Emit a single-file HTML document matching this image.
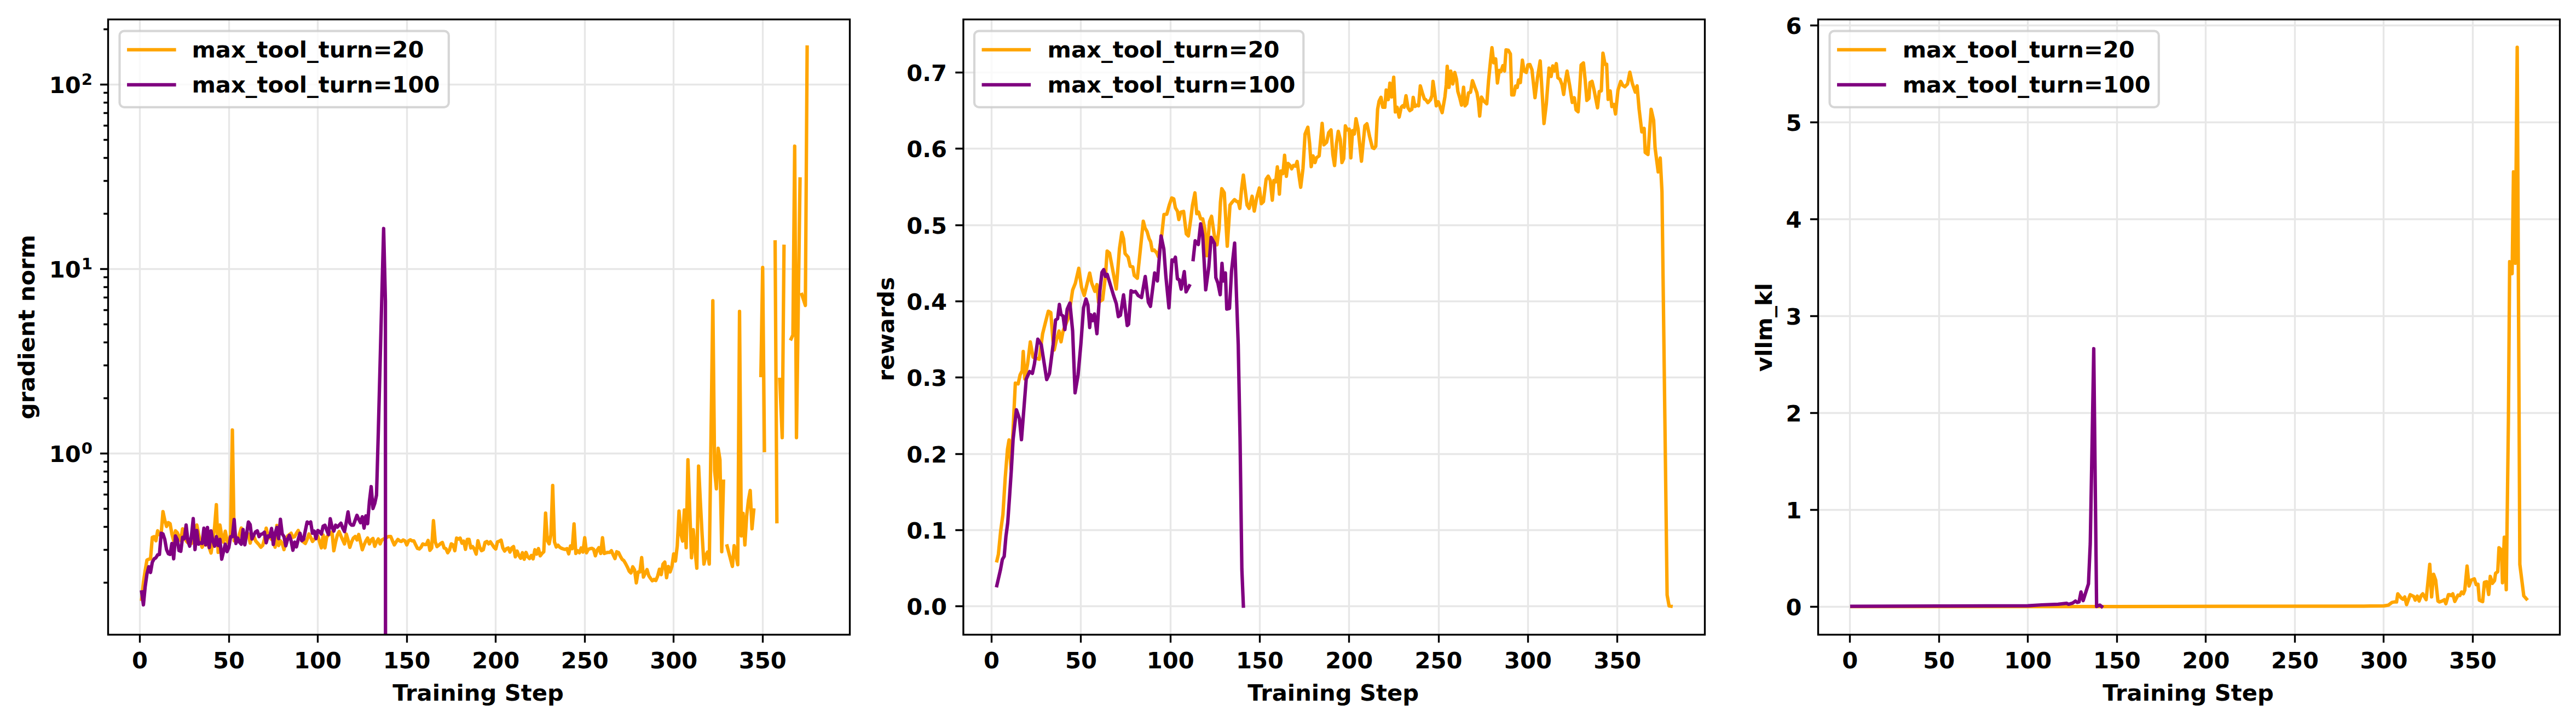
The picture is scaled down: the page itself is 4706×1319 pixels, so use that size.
<!DOCTYPE html>
<html><head><meta charset="utf-8"><title>training curves</title>
<style>
html,body{margin:0;padding:0;background:#fff}
svg{display:block}
text{font-family:"DejaVu Sans","Liberation Sans",sans-serif;font-weight:bold;fill:#000}
</style></head><body>
<svg width="4706" height="1319" viewBox="0 0 4706 1319">
<rect width="4706" height="1319" fill="#fff"/>
<g id="panel1">
<clipPath id="clip0"><rect x="197.5" y="35.5" width="1355" height="1124"/></clipPath>
<path d="M255.5 35.5V1159.5M418.5 35.5V1159.5M580.5 35.5V1159.5M743.5 35.5V1159.5M905.5 35.5V1159.5M1068.5 35.5V1159.5M1230.5 35.5V1159.5M1393.5 35.5V1159.5M197.5 828.5H1552.5M197.5 491.5H1552.5M197.5 154.5H1552.5" stroke="#e7e7e7" stroke-width="3.33" fill="none"/>
<g clip-path="url(#clip0)" fill="none" stroke-width="6.25" stroke-linejoin="round" stroke-linecap="square">
<path d="M258.75,1094.7 262,1064 265.25,1042 268.5,1023 271.75,1021.6 275,1021 278.26,981.61 281.51,980.37 284.76,987.84 288.01,969.78 291.26,976.63 294.51,974.14 297.76,934.6 301.01,950.46 304.26,961.68 307.51,954.82 310.76,956.69 314.01,975.38 317.27,987.84 320.52,969.78 323.77,972.89 327.02,980.37 330.27,987.84 333.52,966.04 336.77,981.61 340.02,987.84 343.27,991.58 346.52,994.07 349.77,992.83 353.02,987.84 356.27,975.38 359.53,959.18 362.78,975.38 366.03,990.34 369.28,999.68 372.53,992.83 375.78,995.32 379.03,994.07 382.28,1000.31 385.53,1010.27 388.78,987.84 392.03,962.92 395.28,922 398.54,1009.03 401.79,959.18 405.04,979.12 408.29,990.34 411.54,970.4 414.79,987.84 418.04,992.83 421.29,975.38 424.54,785.5 427.79,987.84 431.04,987.84 434.29,987.84 437.54,975.38 440.8,964.79 444.05,975.38 447.3,981.61 450.55,979.12 453.8,975.38 457.05,992.21 460.3,979.12 463.55,979.12 466.8,987.84 470.05,991.58 473.3,995.32 476.55,999.68 479.81,996.57 483.06,985.35 486.31,964.79 489.56,979.12 492.81,981.61 496.06,985.35 499.31,987.84 502.56,999.68 505.81,959.81 509.06,996.57 512.31,987.84 515.56,992.83 518.81,1004.04 522.07,990.34 525.32,979.12 528.57,976.63 531.82,974.14 535.07,981.61 538.32,980.37 541.57,974.14 544.82,969.15 548.07,979.12 551.32,987.84 554.57,990.34 557.82,992.83 561.08,985.35 564.33,975.38 567.58,981.61 570.83,989.09 574.08,985.35 577.33,981.61 580.58,979.22 583.83,990.03 587.08,1000.83 590.33,977.42 593.58,1000.83 596.83,981.02 600.08,977.42 603.34,975.62 606.59,972.02 609.84,1006.23 613.09,990.03 616.34,977.42 619.59,971.12 622.84,979.22 626.09,986.42 629.34,993.63 632.59,975.62 635.84,986.42 639.09,999.93 642.35,990.03 645.6,982.82 648.85,980.12 652.1,986.42 655.35,976.52 658.6,990.03 661.85,1004.43 665.1,995.43 668.35,988.22 671.6,982.82 674.85,993.63 678.1,986.42 681.35,983.72 684.61,998.13 687.86,990.03 691.11,984.62 694.36,993.63 697.61,986.42 700.86,984.62 704.11,983.72 707.36,981.02 710.61,980.12 713.86,980.12 717.11,988.22 720.36,995.43 723.62,990.03 726.87,985.52 730.12,988.22 733.37,989.12 736.62,986.42 739.87,988.22 743.12,995.43 746.37,988.22 749.62,986.06 752.87,988.22 756.12,988.22 759.37,995.43 762.62,1001.73 765.88,1002.92 769.13,999.81 772.38,993.58 775.63,994.82 778.88,994.82 782.13,987.34 785.38,1005.42 788.63,1001.05 791.88,951.19 795.13,989.84 798.38,998.56 801.63,996.07 804.89,992.95 808.14,991.08 811.39,1001.05 814.64,1002.3 817.89,1009.78 821.14,1004.79 824.39,993.58 827.64,995.45 830.89,1006.04 834.14,982.98 837.39,984.85 840.64,982.98 843.89,992.33 847.15,988.59 850.4,1003.55 853.65,985.47 856.9,985.47 860.15,1001.05 863.4,998.56 866.65,1003.55 869.9,1012.27 873.15,987.97 876.4,999.81 879.65,1006.04 882.9,1004.17 886.16,991.08 889.41,989.21 892.66,993.58 895.91,989.84 899.16,994.82 902.41,999.81 905.66,1002.92 908.91,989.84 912.16,988.59 915.41,986.72 918.66,1001.05 921.91,1006.66 925.16,1002.3 928.42,1001.05 931.67,1008.56 934.92,1001.08 938.17,998.59 941.42,1017.29 944.67,1006.69 947.92,1014.79 951.17,1019.78 954.42,1009.81 957.67,1021.65 960.92,1009.18 964.17,1017.29 967.43,1020.4 970.68,1014.79 973.93,1021.03 977.18,1004.2 980.43,1012.3 983.68,1002.33 986.93,1015.42 990.18,1011.05 993.43,1007.94 996.68,937.3 999.93,987.37 1003.18,993.6 1006.43,977.4 1009.69,886.8 1012.94,989.86 1016.19,999.21 1019.44,996.1 1022.69,999.84 1025.94,1001.71 1029.19,1002.95 1032.44,1003.58 1035.69,1002.33 1038.94,1011.68 1042.19,997.34 1045.44,1002.33 1048.7,957.2 1051.95,1011.05 1055.2,1006.07 1058.45,1009.81 1061.7,1001.08 1064.95,1008.56 1068.2,982.38 1071.45,1009.81 1074.7,1003.58 1077.95,1002.33 1081.2,1001.71 1084.45,1003.58 1087.7,1015.42 1090.96,1004.82 1094.21,1000.46 1097.46,1011.05 1100.71,982.38 1103.96,1011.05 1107.21,1009.81 1110.46,1009.18 1113.71,1009.18 1116.96,1006.07 1120.21,1013.67 1123.46,1020.53 1126.71,1008.06 1129.97,1009.31 1133.22,1016.16 1136.47,1021.77 1139.72,1024.27 1142.97,1029.88 1146.22,1036.11 1149.47,1043.59 1152.72,1046.71 1155.97,1035.49 1159.22,1041.1 1162.47,1064.78 1165.72,1044.84 1168.97,1044.84 1172.23,1018.66 1175.48,1054.18 1178.73,1047.33 1181.98,1040.47 1185.23,1051.69 1188.48,1056.68 1191.73,1061.04 1194.98,1058.55 1198.23,1060.42 1201.48,1052.31 1204.73,1039.85 1207.98,1049.82 1211.24,1030.5 1214.49,1026.76 1217.74,1055.43 1220.99,1034.86 1224.24,1044.84 1227.49,1034.86 1230.74,1011.8 1233.99,1024.89 1237.24,997.47 1240.49,933.7 1243.74,975 1246.99,988.5 1250.24,931.7 1253.5,1000.6 1256.75,839.9 1260,929 1263.25,1019 1266.5,967.6 1269.75,1005 1273,1038 1276.25,851.5 1279.5,918 1282.75,978 1286,1030.5 1289.25,1015 1292.51,1008.6 1295.76,1030.5 1299.01,790 1302.26,549.4 1305.51,860 1308.76,893 1312.01,818.9 1315.26,840 1318.51,1008 1321.76,879M1328.26,997.4 1331.51,1009.8 1334.77,1022.3 1338.02,1034.8 1341.27,996.8 1344.52,1014 1347.77,1031.7 1351.02,568.9 1354.27,979 1357.52,937.9 1360.77,995.5 1364.02,943 1367.27,914 1370.52,896 1373.78,966 1377.03,931.7M1390.03,686 1393.28,488.6 1396.53,823M1416.04,442 1419.29,953M1424.49,693 1429.04,799.5 1432.29,450M1445.29,619 1448.54,612 1451.79,267 1455.05,799.5 1458.3,563 1461.55,327M1464.8,538 1468.05,548 1471.3,558 1474.55,86" stroke="#ffa500"/>
<path d="M258.75,1081.4 262,1105 265.25,1071.5 268.5,1048.2 271.75,1035.4 275,1045.7 278.26,1027 281.51,1021 284.76,1019 288.01,1013.6 291.26,1013 294.51,974.14 297.76,975.38 301.01,985.35 304.26,1004.04 307.51,1011.52 310.76,1012.77 314.01,992.83 317.27,1020.87 320.52,979.12 323.77,985.35 327.02,1005.91 330.27,1007.16 333.52,981.61 336.77,984.11 340.02,959.18 343.27,987.84 346.52,997.81 349.77,979.12 353.02,947.35 356.27,1004.04 359.53,969.15 362.78,994.07 366.03,991.58 369.28,992.83 372.53,964.79 375.78,995.32 379.03,963.55 382.28,1000.31 385.53,969.78 388.78,987.84 392.03,997.81 395.28,980.37 398.54,996.57 401.79,985.35 405.04,1021.49 408.29,1007.78 411.54,994.07 414.79,1007.78 418.04,1000.31 421.29,980.37 424.54,980.37 427.79,949.21 431.04,992.83 434.29,982.86 437.54,990.34 440.8,994.07 444.05,967.28 447.3,995.32 450.55,975.38 453.8,953.58 457.05,958.56 460.3,984.73 463.55,977.88 466.8,971.64 470.05,969.78 473.3,980.37 476.55,976.01 479.81,975.38 483.06,972.27 486.31,991.58 489.56,979.12 492.81,980.37 496.06,965.41 499.31,994.7 502.56,974.14 505.81,963.55 509.06,984.11 512.31,948.59 515.56,975.38 518.81,980.37 522.07,997.19 525.32,985.35 528.57,977.88 531.82,987.84 535.07,1005.29 538.32,990.34 541.57,999.06 544.82,985.35 548.07,974.14 551.32,987.84 554.57,985.35 557.82,969.15 561.08,953.58 564.33,956.07 567.58,953.58 570.83,974.14 574.08,970.4 577.33,984.11 580.58,969.15 583.83,971.12 587.08,975.62 590.33,961.22 593.58,959.42 596.83,968.42 600.08,976.52 603.34,947.71 606.59,963.02 609.84,970.22 613.09,959.42 616.34,963.02 619.59,959.42 622.84,955.82 626.09,964.82 629.34,971.12 632.59,954.02 635.84,935.11 639.09,955.82 642.35,959.42 645.6,959.42 648.85,950.41 652.1,941.41 655.35,948.61 658.6,954.92 661.85,944.11 665.1,964.82 668.35,942.31 671.6,956.72 674.85,916.2 678.1,889 681.35,929 684.61,919.8 687.86,904.5 691.11,790 694.36,665 697.61,540 700.86,417.5 704.1,550 704.3,1300" stroke="#800080"/>
</g>
<path d="M255.5 1159.5v14.6M418.5 1159.5v14.6M580.5 1159.5v14.6M743.5 1159.5v14.6M905.5 1159.5v14.6M1068.5 1159.5v14.6M1230.5 1159.5v14.6M1393.5 1159.5v14.6M197.5 828.5h-14.6M197.5 491.5h-14.6M197.5 154.5h-14.6M197.5 1064.5h-8.3M197.5 1004.5h-8.3M197.5 962.5h-8.3M197.5 929.5h-8.3M197.5 903.5h-8.3M197.5 880.5h-8.3M197.5 861.5h-8.3M197.5 843.5h-8.3M197.5 727.5h-8.3M197.5 667.5h-8.3M197.5 625.5h-8.3M197.5 592.5h-8.3M197.5 566.5h-8.3M197.5 543.5h-8.3M197.5 524.5h-8.3M197.5 506.5h-8.3M197.5 390.5h-8.3M197.5 330.5h-8.3M197.5 288.5h-8.3M197.5 255.5h-8.3M197.5 229.5h-8.3M197.5 206.5h-8.3M197.5 187.5h-8.3M197.5 169.5h-8.3M197.5 53.5h-8.3" stroke="#000" stroke-width="3.33" fill="none"/>
<rect x="197.5" y="35.5" width="1355" height="1124" fill="none" stroke="#000" stroke-width="3.33"/>
<text x="255.5" y="1220.7" font-size="41.67" text-anchor="middle">0</text>
<text x="418.04" y="1220.7" font-size="41.67" text-anchor="middle">50</text>
<text x="580.58" y="1220.7" font-size="41.67" text-anchor="middle">100</text>
<text x="743.12" y="1220.7" font-size="41.67" text-anchor="middle">150</text>
<text x="905.66" y="1220.7" font-size="41.67" text-anchor="middle">200</text>
<text x="1068.2" y="1220.7" font-size="41.67" text-anchor="middle">250</text>
<text x="1230.74" y="1220.7" font-size="41.67" text-anchor="middle">300</text>
<text x="1393.28" y="1220.7" font-size="41.67" text-anchor="middle">350</text>
<text x="147.7" y="844.2" font-size="41.67" text-anchor="end">10</text><text x="148.7" y="829.3" font-size="29.17" text-anchor="start">0</text>
<text x="147.7" y="507.2" font-size="41.67" text-anchor="end">10</text><text x="148.7" y="492.3" font-size="29.17" text-anchor="start">1</text>
<text x="147.7" y="170.2" font-size="41.67" text-anchor="end">10</text><text x="148.7" y="155.3" font-size="29.17" text-anchor="start">2</text>
<text x="873.5" y="1279.6" font-size="41.67" text-anchor="middle">Training Step</text>
<text transform="translate(63.4 597.5) rotate(-90)" font-size="41.67" text-anchor="middle">gradient norm</text>
<rect x="218.5" y="56.6" width="601.3" height="139.2" rx="8.3" fill="#fff" fill-opacity="0.8" stroke="#ccc" stroke-opacity="0.8" stroke-width="4.17"/>
<path d="M235.2 90.8h83.3" stroke="#ffa500" stroke-width="6.25" stroke-linecap="square" fill="none"/><text x="350.4" y="104.5" font-size="41.67">max_tool_turn=20</text>
<path d="M235.2 154.9h83.3" stroke="#800080" stroke-width="6.25" stroke-linecap="square" fill="none"/><text x="350.4" y="168.6" font-size="41.67">max_tool_turn=100</text>
</g>
<g id="panel2">
<clipPath id="clip1"><rect x="1759.9" y="35.5" width="1354.6" height="1124"/></clipPath>
<path d="M1811.5 35.5V1159.5M1974.5 35.5V1159.5M2138.5 35.5V1159.5M2301.5 35.5V1159.5M2464.5 35.5V1159.5M2628.5 35.5V1159.5M2791.5 35.5V1159.5M2954.5 35.5V1159.5M1759.9 1107.5H3114.5M1759.9 968.5H3114.5M1759.9 829.5H3114.5M1759.9 689.5H3114.5M1759.9 550.5H3114.5M1759.9 411.5H3114.5M1759.9 271.5H3114.5M1759.9 132.5H3114.5" stroke="#e7e7e7" stroke-width="3.33" fill="none"/>
<g clip-path="url(#clip1)" fill="none" stroke-width="6.25" stroke-linejoin="round" stroke-linecap="square">
<path d="M1821.2,1024.5 1823.9,1012.7 1828,971 1832.2,940 1836.4,873 1840.5,821 1843.4,803.6 1847,857.4 1850.5,790 1854.9,699.9 1859.96,701.35 1863.58,684.88 1867.31,677.4 1869.31,642.16 1872.3,692.25 1877.29,664.93 1882.27,624.71 1887.26,652.47 1898.48,656.21 1904.71,609.64 1909.7,589.7 1915.18,568.61 1919.67,571 1923.41,619.62 1925.9,639.45 1929.64,622.11 1934.63,604.76 1938.37,624.5 1942.11,604.66 1952.08,579.73 1959.56,529.86 1964.55,517.4 1970.78,490.08 1975.77,524.88 1980.75,539.73 1990.73,498.81 1994.47,517.4 2000.07,532.25 2003.94,520 2006.93,552.19 2014.41,547.31 2019.4,504.93 2022.64,458.53 2026.94,462.27 2039.28,527.92 2045.08,454.79 2049.38,424.67 2052.56,436.1 2055.36,463.21 2060.97,469.75 2064.71,486.58 2069.39,487.52 2072.19,503.41 2077.8,508.29 2083.41,454.79 2088.65,404.1 2091.82,416.46 2095.56,423.01 2099.3,436.1 2102.11,441.71 2104.91,457.6 2108.65,456.66 2113.33,462.27 2116.13,469.02 2122.68,426.75 2126.42,391.95 2131.56,391.42 2136.1,374.57 2140.58,361.61 2144.32,363.36 2147.31,379.56 2151.05,385.79 2153.55,401.08 2157.29,387.48 2162.27,386.23 2167.26,427.37 2171,431.11 2175.36,400.35 2178.48,375.07 2182.97,352.24 2186.33,390.27 2189.7,387.59 2193.44,399.95 2197.18,399.95 2200.92,417.4 2204.66,467.15 2209.64,404.93 2213.38,395.07 2218.37,429.86 2223.36,447.21 2227.1,417.4 2229.59,369.59 2232.08,344.76 2236.57,352.14 2242.05,449.7 2247.04,374.57 2250.78,369.59 2255.27,364.71 2259.51,368.34 2262,368.34 2264.99,380.7 2268.23,344.66 2271.47,319.83 2274.47,344.66 2278.2,374.57 2281.94,380.7 2287.43,358.48 2291.42,385.69 2295.66,362.11 2300.64,343.52 2304.38,372.08 2308.12,368.34 2313.11,327.21 2316.85,321.83 2320.59,329.7 2324.33,365.74 2327.32,329.7 2330.56,332.19 2333.55,304.87 2337.29,354.52 2340.03,312.35 2343.77,317.13 2346.77,283.68 2350.01,322.11 2353,298.53 2356.74,302.27 2359.73,308.4 2362.97,302.27 2366.71,303.52 2369.7,294.9 2372.94,319.73 2376.19,342.06 2380.42,307.26 2384.16,244.93 2389.22,232.38 2392.47,262.19 2395.46,304.47 2398.7,284.74 2402.44,296.99 2404.93,288.37 2409.92,284.63 2415.4,225.4 2418.64,264.58 2423.63,259.7 2427.37,242.25 2431.61,237.37 2434.85,282.14 2438.09,302.47 2441.58,262.19 2444.82,239.86 2448.56,254.71 2451.55,296.99 2454.79,289.62 2457.79,229.89 2461.03,237.26 2464.77,236.01 2467.76,288.26 2471,238.61 2474.24,244.63 2477.23,216.92 2480.97,234.77 2487.21,294.5 2493.44,229.78 2497.18,226.15 2502.16,249.73 2507.15,269.67 2510.14,271.31 2513.38,267.18 2516.7,199.62 2519.45,184.66 2522.94,177.78 2526.18,195.88 2529.92,195.88 2532.41,164.32 2536.15,182.06 2539.14,151.85 2542.38,177.07 2546.12,141.13 2549.11,204.5 2552.36,195.98 2556.1,213.97 2559.84,195.88 2562.33,193.38 2565.32,195.77 2568.56,174.79 2572.3,197.12 2575.54,202.11 2579.28,199.62 2581.78,177.78 2584.77,194.52 2588.51,192.24 2591.5,193.28 2594.74,156.84 2598.48,169.7 2602.22,180.92 2604.71,182.16 2608.45,187.54 2613.44,182.16 2615.93,174.68 2617.93,148.61 2620.92,169.7 2623.91,193.28 2627.65,186.01 2634.63,205.74 2639.62,177.18 2642.11,154.74 2643.85,121.19 2647.1,159.62 2650.34,129.91 2654.08,153.39 2657.57,132.41 2660.81,144.77 2663.3,167.21 2667.04,179.67 2670.03,192.03 2673.77,159.33 2676.51,193.38 2679.51,189.64 2682.75,169.7 2686.49,168.45 2689.98,147.37 2694.47,159.73 2698.2,169.7 2700.7,184.66 2703.19,211.97 2706.43,177.28 2710.67,184.66 2716.16,189.54 2719.4,147.26 2723.14,109.86 2725.63,87.03 2728.87,114.74 2732.36,107.48 2735.6,151.64 2738.84,128.67 2741.83,130.95 2745.57,119.94 2748.57,129.7 2751.31,91.16 2755.55,91.91 2759.29,98.64 2761.78,173.44 2765.52,173.44 2768.76,157.23 2771.75,159.73 2774.25,146.12 2777.49,150.89 2781.23,109.97 2784.22,129.81 2788.46,132.3 2791.2,118.59 2794.94,117.84 2798.68,127.31 2801.67,154.74 2804.24,178.32 2808.73,142.27 2813.71,111.22 2817.45,172.19 2820.69,225.69 2824.93,189.64 2829.92,124.43 2833.66,139.67 2836.65,120.44 2839.89,129.7 2843.13,116.2 2846.12,142.27 2849.86,144.77 2853.6,154.74 2856.59,172.58 2859.84,147.26 2862.83,129.91 2867.31,154.74 2872.3,187.04 2876.04,178.53 2879.28,200.86 2883.02,204.1 2886.01,159.73 2888.51,118.59 2892.74,114.96 2895.99,147.26 2898.98,183.41 2902.72,179.67 2904.71,151 2908.45,148.61 2912.19,164.71 2918.42,197.02 2921.67,167.21 2925.41,165.96 2928.4,97.01 2932.14,117.34 2935.13,117.34 2937.87,181.56 2941.61,166.07 2944.6,194.63 2948.34,190.89 2951.33,208.24 2955.82,164.71 2960.81,148.61 2964.55,155.99 2968.29,158.48 2973.27,153.49 2977.51,131.91 2982,152.25 2987.48,168.34 2990.73,156.84 2994.47,199.62 2999.4,241 3003.6,234.5 3005.6,278.5 3010.6,282.3 3016.4,199.7 3021,220 3023.6,270 3029.3,314.1 3033,288.6 3036.2,350 3045.6,1087 3049.2,1107 3052.7,1107.5" stroke="#ffa500"/>
<path d="M1821,1070 1824.7,1054 1827.9,1040 1831.2,1022 1834.5,1016.5 1837.7,980 1841,955 1844.4,906 1847.6,858 1850.8,803 1856.84,748.56 1862.33,764.66 1866.07,803.19 1874.79,692.36 1881.03,678.75 1886.01,682.28 1889.75,664.93 1895.99,619.72 1902.22,629.59 1912.2,693.4 1917.2,682.4 1923.91,629.59 1928.4,584.71 1932.14,582.22 1935.38,556.15 1938.37,574.74 1942.11,577.23 1945.35,602.06 1949.59,564.77 1954.57,553.65 1959.56,604.66 1964,717.7 1969.5,684.9 1974.52,629.59 1979.51,562.27 1983.99,546.18 1987.48,557.29 1990.73,598.32 1992.72,574.85 1995.96,585.85 1999.45,573.6 2003.94,609.54 2009.42,529.86 2013.16,497.45 2016.4,492.57 2019.4,504.93 2022.64,501.19 2026.88,514.9 2034.36,539.84 2039.34,554.79 2043.08,578.48 2046.82,575.99 2052.56,538.7 2059.29,594.68 2061.78,592.19 2066.27,531.22 2070.51,533.6 2074.25,532.36 2079.23,539.84 2085.46,543.58 2092.2,505.04 2097.93,552.3 2101.7,559.7 2109.42,498.53 2114.41,513.28 2121.14,431.22 2126.12,454.79 2129.86,504.66 2135.5,562.4 2141.08,474.85 2144.32,477.13 2147.31,469.86 2151.05,509.64 2154.3,510.89 2157.79,528.24 2163.52,496.04 2166.76,533.22 2172.74,522.11M2179.73,474.24 2183.47,439.94 2189.2,446.71 2193.44,408.78 2197.18,429.86 2202.66,529.48 2208.4,487.21 2212.64,433.71 2218.7,444.93 2221.19,507.26 2224.93,517.23 2229.17,538.32 2232.41,481.19 2234.9,513.39 2238.64,498.64 2241.14,564.6 2246.12,563.36 2249.86,494.79 2255.5,444.1 2262.1,630 2265.4,800 2268.7,1040 2271.5,1107.3" stroke="#800080"/>
</g>
<path d="M1811.5 1159.5v14.6M1974.5 1159.5v14.6M2138.5 1159.5v14.6M2301.5 1159.5v14.6M2464.5 1159.5v14.6M2628.5 1159.5v14.6M2791.5 1159.5v14.6M2954.5 1159.5v14.6M1759.9 1107.5h-14.6M1759.9 968.5h-14.6M1759.9 829.5h-14.6M1759.9 689.5h-14.6M1759.9 550.5h-14.6M1759.9 411.5h-14.6M1759.9 271.5h-14.6M1759.9 132.5h-14.6" stroke="#000" stroke-width="3.33" fill="none"/>
<rect x="1759.9" y="35.5" width="1354.6" height="1124" fill="none" stroke="#000" stroke-width="3.33"/>
<text x="1811.6" y="1220.7" font-size="41.67" text-anchor="middle">0</text>
<text x="1974.9" y="1220.7" font-size="41.67" text-anchor="middle">50</text>
<text x="2138.2" y="1220.7" font-size="41.67" text-anchor="middle">100</text>
<text x="2301.5" y="1220.7" font-size="41.67" text-anchor="middle">150</text>
<text x="2464.8" y="1220.7" font-size="41.67" text-anchor="middle">200</text>
<text x="2628.1" y="1220.7" font-size="41.67" text-anchor="middle">250</text>
<text x="2791.4" y="1220.7" font-size="41.67" text-anchor="middle">300</text>
<text x="2954.7" y="1220.7" font-size="41.67" text-anchor="middle">350</text>
<text x="1730" y="1123.4" font-size="41.67" text-anchor="end">0.0</text>
<text x="1730" y="984.06" font-size="41.67" text-anchor="end">0.1</text>
<text x="1730" y="844.72" font-size="41.67" text-anchor="end">0.2</text>
<text x="1730" y="705.38" font-size="41.67" text-anchor="end">0.3</text>
<text x="1730" y="566.04" font-size="41.67" text-anchor="end">0.4</text>
<text x="1730" y="426.7" font-size="41.67" text-anchor="end">0.5</text>
<text x="1730" y="287.36" font-size="41.67" text-anchor="end">0.6</text>
<text x="1730" y="148.02" font-size="41.67" text-anchor="end">0.7</text>
<text x="2435.7" y="1279.6" font-size="41.67" text-anchor="middle">Training Step</text>
<text transform="translate(1632.8 601.3) rotate(-90)" font-size="41.67" text-anchor="middle">rewards</text>
<rect x="1780" y="56.6" width="601.3" height="139.2" rx="8.3" fill="#fff" fill-opacity="0.8" stroke="#ccc" stroke-opacity="0.8" stroke-width="4.17"/>
<path d="M1796.7 90.8h83.3" stroke="#ffa500" stroke-width="6.25" stroke-linecap="square" fill="none"/><text x="1913.5" y="104.5" font-size="41.67">max_tool_turn=20</text>
<path d="M1796.7 154.9h83.3" stroke="#800080" stroke-width="6.25" stroke-linecap="square" fill="none"/><text x="1913.5" y="168.6" font-size="41.67">max_tool_turn=100</text>
</g>
<g id="panel3">
<clipPath id="clip2"><rect x="3321.5" y="35.5" width="1355" height="1124"/></clipPath>
<path d="M3379.5 35.5V1159.5M3542.5 35.5V1159.5M3704.5 35.5V1159.5M3867.5 35.5V1159.5M4029.5 35.5V1159.5M4192.5 35.5V1159.5M4354.5 35.5V1159.5M4517.5 35.5V1159.5M3321.5 1108.5H4676.5M3321.5 931.5H4676.5M3321.5 754.5H4676.5M3321.5 577.5H4676.5M3321.5 400.5H4676.5M3321.5 223.5H4676.5M3321.5 46.5H4676.5" stroke="#e7e7e7" stroke-width="3.33" fill="none"/>
<g clip-path="url(#clip2)" fill="none" stroke-width="6.25" stroke-linejoin="round" stroke-linecap="square">
<path d="M3383.05,1108.2 3867.38,1108 4313.38,1107.36 4330,1107.2 4354.93,1106.86 4363.24,1105.53 4369.89,1100.55 4374.04,1099.72 4378.2,1099.72 4380.36,1084.87 4386.51,1092.24 4389.83,1094.73 4393.15,1090.68 4396.48,1104.6 4403.13,1086.42 4409.77,1089.75 4412.27,1096.29 4416.09,1089.02 4419.41,1097.95 4423.07,1088.08 4426.06,1084.87 4432.21,1095.46 4438.86,1030.85 4442.18,1090.47 4445.84,1049.13 4449.66,1059.83 4453.82,1098.06 4456.31,1099.72 4461.29,1098.06 4465.45,1095.56 4468.27,1102.93 4472.93,1086.42 4475.42,1086.42 4477.91,1087.98 4480.91,1084.87 4484.56,1098.78 4490.38,1087.25 4493.7,1088.08 4497.03,1081.54 4500.35,1084.65 4502.84,1078.11 4507,1034.18 4510.65,1070.53 4514.48,1059.83 4520.29,1057.44 4523.62,1068.14 4526.94,1067.31 4529.43,1096.39 4532.76,1098.06 4535.5,1099 4538.7,1063.7 4542.6,1062.8 4546.5,1086 4549.4,1053 4553.3,1065.7 4557.1,1060.8 4559.1,1047.3 4563,1044.4 4565.3,1000.7 4569.8,1004.6 4571.7,1064.7 4575,981.3 4578.6,1077.3 4582.5,770 4584.8,478 4589.3,500 4591.8,314 4595,481 4598.6,86.4 4603.4,1031 4610.6,1088.5 4615.5,1094.2" stroke="#ffa500"/>
<path d="M3383.05,1107.7 3542.33,1107.2 3704.85,1106.6 3729.88,1105 3759.78,1103.9 3775.71,1102.2 3778.96,1103.9 3786.44,1101.7 3791.64,1098 3794.56,1100.5 3798.14,1099.7 3801.71,1081.4 3805.62,1097.2 3815.37,1066.5 3818.62,993 3821.87,815 3825,637 3830.2,1108 3833.7,1106.3 3836.2,1105.5 3839.4,1108" stroke="#800080"/>
</g>
<path d="M3379.5 1159.5v14.6M3542.5 1159.5v14.6M3704.5 1159.5v14.6M3867.5 1159.5v14.6M4029.5 1159.5v14.6M4192.5 1159.5v14.6M4354.5 1159.5v14.6M4517.5 1159.5v14.6M3321.5 1108.5h-14.6M3321.5 931.5h-14.6M3321.5 754.5h-14.6M3321.5 577.5h-14.6M3321.5 400.5h-14.6M3321.5 223.5h-14.6M3321.5 46.5h-14.6" stroke="#000" stroke-width="3.33" fill="none"/>
<rect x="3321.5" y="35.5" width="1355" height="1124" fill="none" stroke="#000" stroke-width="3.33"/>
<text x="3379.8" y="1220.7" font-size="41.67" text-anchor="middle">0</text>
<text x="3542.33" y="1220.7" font-size="41.67" text-anchor="middle">50</text>
<text x="3704.85" y="1220.7" font-size="41.67" text-anchor="middle">100</text>
<text x="3867.38" y="1220.7" font-size="41.67" text-anchor="middle">150</text>
<text x="4029.9" y="1220.7" font-size="41.67" text-anchor="middle">200</text>
<text x="4192.43" y="1220.7" font-size="41.67" text-anchor="middle">250</text>
<text x="4354.95" y="1220.7" font-size="41.67" text-anchor="middle">300</text>
<text x="4517.48" y="1220.7" font-size="41.67" text-anchor="middle">350</text>
<text x="3291.6" y="1124" font-size="41.67" text-anchor="end">0</text>
<text x="3291.6" y="947" font-size="41.67" text-anchor="end">1</text>
<text x="3291.6" y="770" font-size="41.67" text-anchor="end">2</text>
<text x="3291.6" y="593" font-size="41.67" text-anchor="end">3</text>
<text x="3291.6" y="416" font-size="41.67" text-anchor="end">4</text>
<text x="3291.6" y="239" font-size="41.67" text-anchor="end">5</text>
<text x="3291.6" y="62" font-size="41.67" text-anchor="end">6</text>
<text x="3997.5" y="1279.6" font-size="41.67" text-anchor="middle">Training Step</text>
<text transform="translate(3237.1 598) rotate(-90)" font-size="41.67" text-anchor="middle">vllm_kl</text>
<rect x="3342.5" y="56.6" width="601.3" height="139.2" rx="8.3" fill="#fff" fill-opacity="0.8" stroke="#ccc" stroke-opacity="0.8" stroke-width="4.17"/>
<path d="M3359.2 90.8h83.3" stroke="#ffa500" stroke-width="6.25" stroke-linecap="square" fill="none"/><text x="3475.7" y="104.5" font-size="41.67">max_tool_turn=20</text>
<path d="M3359.2 154.9h83.3" stroke="#800080" stroke-width="6.25" stroke-linecap="square" fill="none"/><text x="3475.7" y="168.6" font-size="41.67">max_tool_turn=100</text>
</g>
</svg>
</body></html>
